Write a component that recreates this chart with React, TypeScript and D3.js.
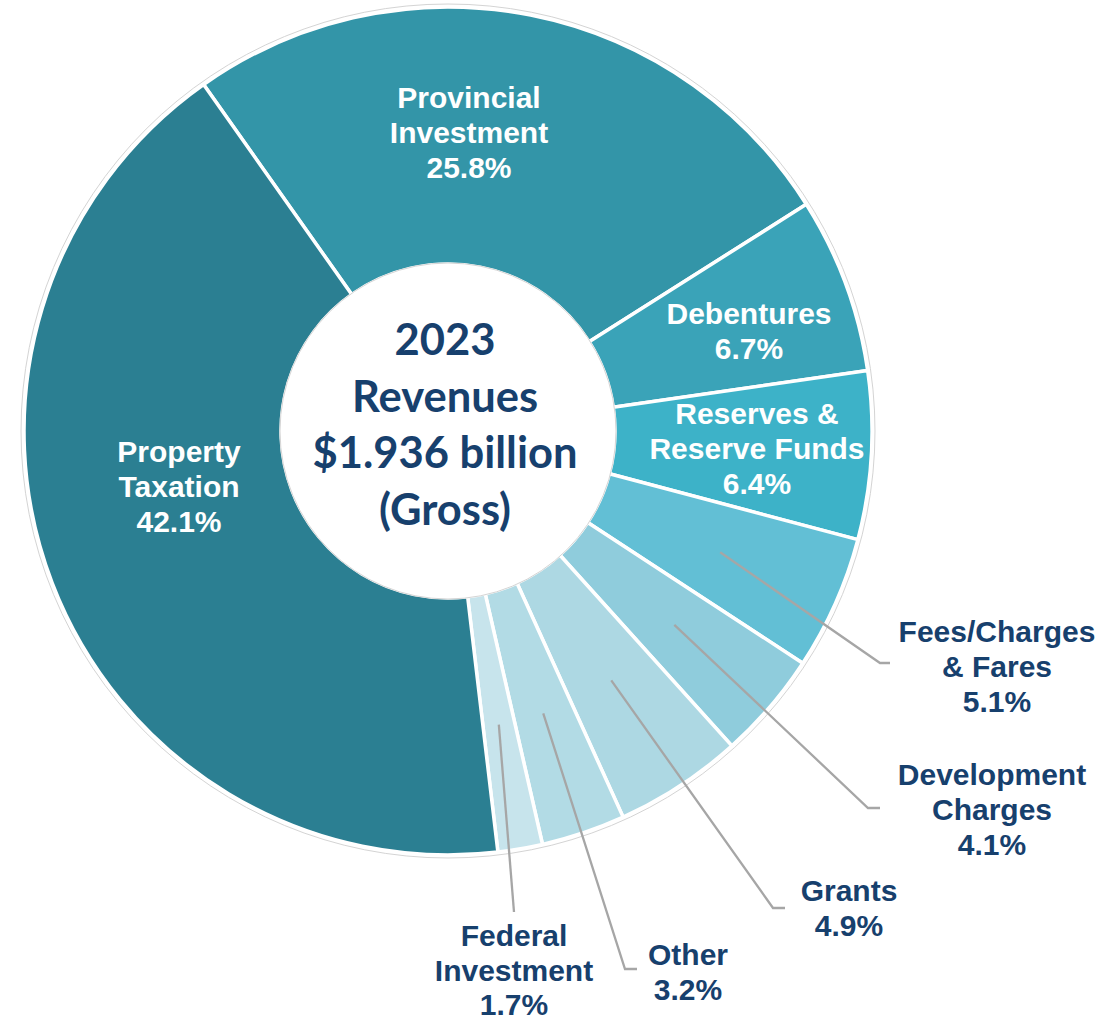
import React from "react";
import * as d3 from "d3";

// ---- data ----
const categories = [
  "Provincial Investment",
  "Debentures",
  "Reserves & Reserve Funds",
  "Fees/Charges & Fares",
  "Development Charges",
  "Grants",
  "Other",
  "Federal Investment",
  "Property Taxation",
];
const values = [25.8, 6.7, 6.4, 5.1, 4.1, 4.9, 3.2, 1.7, 42.1];
const labelLines = [
  ["Provincial", "Investment"],
  ["Debentures"],
  ["Reserves &", "Reserve Funds"],
  ["Fees/Charges", "& Fares"],
  ["Development", "Charges"],
  ["Grants"],
  ["Other"],
  ["Federal", "Investment"],
  ["Property", "Taxation"],
];
const sliceColors = [
  "#3395A8",
  "#3AA3B8",
  "#3DB2C8",
  "#62BFD5",
  "#8FCCDC",
  "#ADD8E3",
  "#B2DBE5",
  "#C7E4EC",
  "#2B7F92",
];
const centerTitle = ["2023", "Revenues", "$1.936 billion", "(Gross)"];

// ---- layout (positions only) ----
const W = 1104;
const H = 1022;
const cx = 448;
const cy = 431;
const R = 424;
const r0 = 167;
const startDeg = -35.2;
const lineH = 35;

// inside labels: x center, first baseline
const insideLayout: Record<number, { x: number; y: number }> = {
  0: { x: 469, y: 108 },
  1: { x: 749, y: 324 },
  2: { x: 757, y: 424 },
  8: { x: 179, y: 462 },
};
// outside labels: elbow, horizontal tail length, label center x, first baseline, line step
const outsideLayout: Record<
  number,
  { ex: number; ey: number; tail: number; lx: number; ly: number; step: number }
> = {
  3: { ex: 880, ey: 663, tail: 10, lx: 997, ly: 642, step: 35 },
  4: { ex: 868, ey: 808, tail: 12, lx: 992, ly: 785, step: 35 },
  5: { ex: 773, ey: 908, tail: 12, lx: 849, ly: 901, step: 35 },
  6: { ex: 625, ey: 969, tail: 12, lx: 688, ly: 965, step: 35 },
  7: { ex: 514, ey: 912, tail: 0, lx: 514, ly: 946, step: 34.5 },
};
const leaderR = 298;

const labelFont = "'Liberation Sans', Arial, sans-serif";

export default function App() {
  const total = d3.sum(values);
  const pie = d3
    .pie<number>()
    .sort(null)
    .value((d) => d)
    .startAngle((startDeg * Math.PI) / 180)
    .endAngle(((startDeg + 360) * Math.PI) / 180);
  const arcs = pie(values);
  const arcGen = d3
    .arc<d3.PieArcDatum<number>>()
    .innerRadius(r0)
    .outerRadius(R);
  const fmt = (v: number) => `${((v / total) * 100).toFixed(1)}%`;
  const polar = (a: number, r: number): [number, number] => [
    cx + r * Math.sin(a),
    cy - r * Math.cos(a),
  ];

  return (
    <svg
      width={W}
      height={H}
      viewBox={`0 0 ${W} ${H}`}
      style={{ position: "absolute", left: 0, top: 0, background: "#fff" }}
    >
      <circle cx={cx} cy={cy} r={R + 3} fill="#fff" stroke="#d4d4d4" strokeWidth={1} />
      <g transform={`translate(${cx},${cy})`}>
        {arcs.map((a, i) => (
          <path
            key={categories[i]}
            d={arcGen(a) || ""}
            fill={sliceColors[i]}
            stroke="#fff"
            strokeWidth={3.5}
            strokeLinejoin="round"
          />
        ))}
      </g>
      <circle cx={cx} cy={cy} r={r0 + 1} fill="#fff" stroke="#d4d4d4" strokeWidth={1} />

      {/* inside labels */}
      {arcs.map((a, i) => {
        const L = insideLayout[i];
        if (!L) return null;
        const lines = [...labelLines[i], fmt(a.value)];
        return (
          <text
            key={"in" + i}
            fontFamily={labelFont}
            fontWeight="bold"
            fontSize={30}
            fill="#fff"
            textAnchor="middle"
          >
            {lines.map((t, k) => (
              <tspan key={k} x={L.x} y={L.y + k * lineH}>
                {t}
              </tspan>
            ))}
          </text>
        );
      })}

      {/* leader lines and outside labels */}
      {arcs.map((a, i) => {
        const L = outsideLayout[i];
        if (!L) return null;
        const mid = (a.startAngle + a.endAngle) / 2;
        const [sx, sy] = polar(mid, leaderR);
        const pts = [
          [sx, sy],
          [L.ex, L.ey],
          [L.ex + L.tail, L.ey],
        ];
        const lines = [...labelLines[i], fmt(a.value)];
        return (
          <g key={"out" + i}>
            <polyline
              points={pts.map((p) => p.join(",")).join(" ")}
              fill="none"
              stroke="#A6A6A6"
              strokeWidth={2.3}
            />
            <text
              fontFamily={labelFont}
              fontWeight="bold"
              fontSize={30}
              fill="#17406D"
              textAnchor="middle"
            >
              {lines.map((t, k) => (
                <tspan key={k} x={L.lx} y={L.ly + k * L.step}>
                  {t}
                </tspan>
              ))}
            </text>
          </g>
        );
      })}

      {/* center title */}
      <text
        fontFamily="Lato, 'Open Sans', sans-serif"
        fontWeight="bold"
        fontSize={43.5}
        fill="#17406D"
        textAnchor="middle"
      >
        {centerTitle.map((t, k) => (
          <tspan key={k} x={cx - 3} y={355 + k * 56.5}>
            {t}
          </tspan>
        ))}
      </text>
    </svg>
  );
}
